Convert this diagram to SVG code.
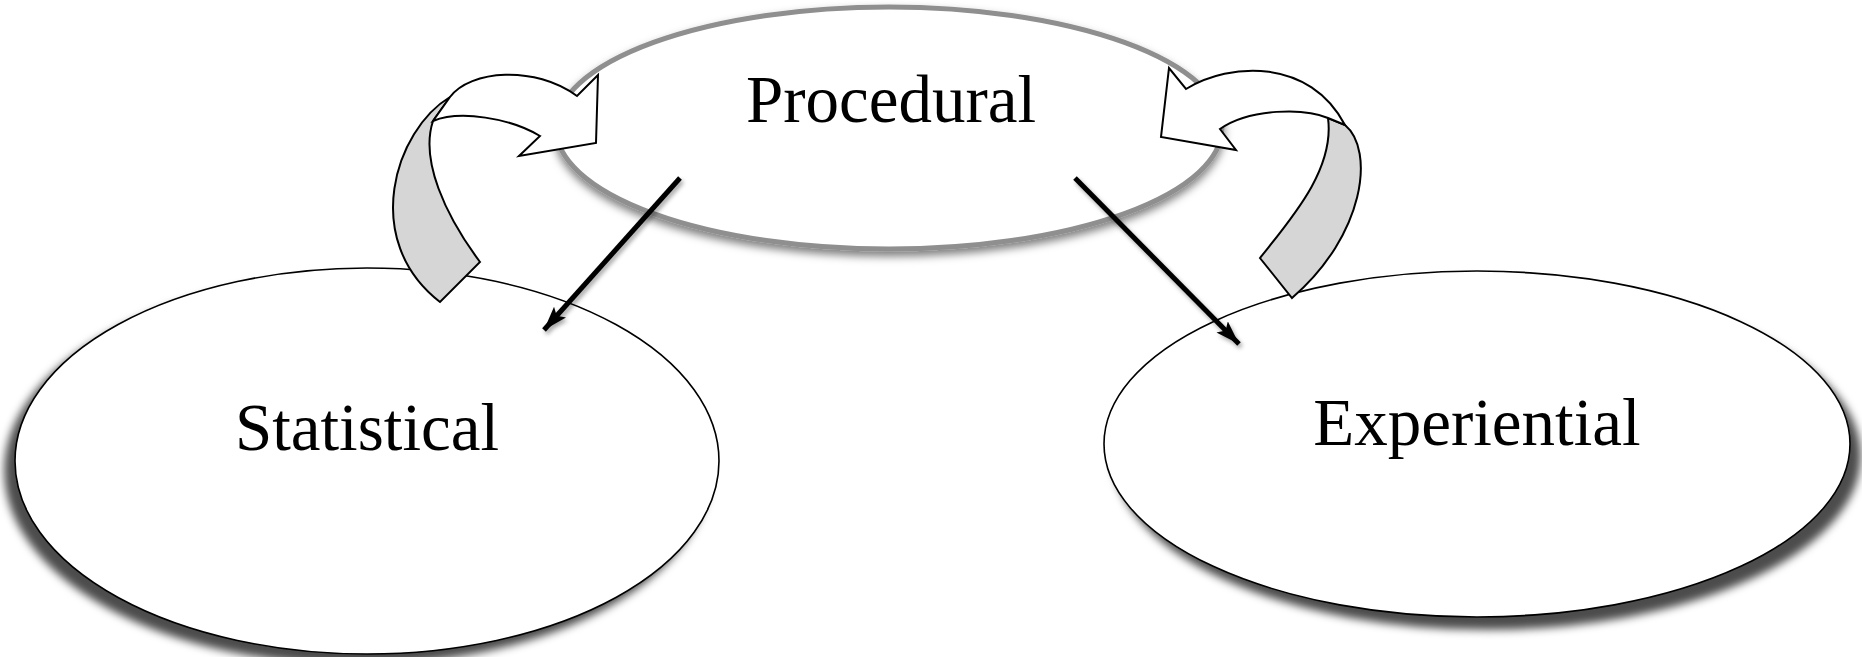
<svg xmlns="http://www.w3.org/2000/svg" width="1862" height="657" viewBox="0 0 1862 657">
<style>
.lbl{font-family:"Liberation Serif","Times New Roman",serif;font-size:67px;fill:#000;text-anchor:middle}
.node{fill:#fff;stroke:#000;stroke-width:1.6}
.band{fill:#d6d6d6;stroke:#000;stroke-width:2;stroke-linejoin:miter}
.ribbon{fill:#fff;stroke:#000;stroke-width:2;stroke-linejoin:miter}
.arr{stroke:#000;stroke-width:5;fill:none;marker-end:url(#head)}
</style>
<defs>
<filter id="shTop" x="-10%" y="-10%" width="120%" height="130%"><feDropShadow dx="0" dy="5" stdDeviation="4" flood-color="#000" flood-opacity="0.5"/></filter>
<filter id="shLeft" x="-10%" y="-10%" width="120%" height="130%"><feDropShadow dx="-10" dy="10" stdDeviation="4" flood-color="#000" flood-opacity="0.7"/></filter>
<filter id="shRight" x="-10%" y="-10%" width="120%" height="130%"><feDropShadow dx="10" dy="12" stdDeviation="4" flood-color="#000" flood-opacity="0.7"/></filter>
<filter id="shLine" x="-20%" y="-20%" width="140%" height="140%"><feDropShadow dx="2" dy="3" stdDeviation="2" flood-color="#000" flood-opacity="0.35"/></filter>
<marker id="head" markerUnits="userSpaceOnUse" markerWidth="26" markerHeight="18" refX="24" refY="8" orient="auto"><path d="M0,0 L24,8 L0,16 L5,8 Z" fill="#000"/></marker>
</defs>
<g id="node-procedural">
<ellipse cx="889" cy="128" rx="333" ry="121" fill="#fff" stroke="#8f8f8f" stroke-width="5" filter="url(#shTop)"/>
<text class="lbl" x="891" y="122">Procedural</text>
</g>
<g id="node-statistical">
<ellipse class="node" cx="367" cy="461" rx="352" ry="193" filter="url(#shLeft)"/>
<text class="lbl" x="367" y="450">Statistical</text>
</g>
<g id="node-experiential">
<ellipse class="node" cx="1477" cy="444" rx="373" ry="173" filter="url(#shRight)"/>
<text class="lbl" x="1477" y="445">Experiential</text>
</g>
<g id="connectors">
<g id="loop-left">
<path class="band" d="M450,97 C395,130 360,240 440,302 L480,262 C445,215 420,160 433,121 Z"/>
<path class="ribbon" d="M450,97 C470,70 535,65 577,96 L598,75 L596,143 L519,156 L540,136 C510,118 460,110 433,121 Z"/>
</g>
<g id="loop-right">
<path class="band" d="M1345,125 C1375,150 1365,235 1292,298 L1260,258 C1290,220 1335,170 1328,118 Z"/>
<path class="ribbon" d="M1186,89 C1230,62 1310,58 1345,125 L1328,118 C1305,108 1250,108 1220,129 L1236,150 L1161,137 L1169,68 Z"/>
</g>
<line class="arr" x1="680" y1="178" x2="544" y2="330" filter="url(#shLine)"/>
<line class="arr" x1="1075" y1="178" x2="1239" y2="344" filter="url(#shLine)"/>
</g>
</svg>
